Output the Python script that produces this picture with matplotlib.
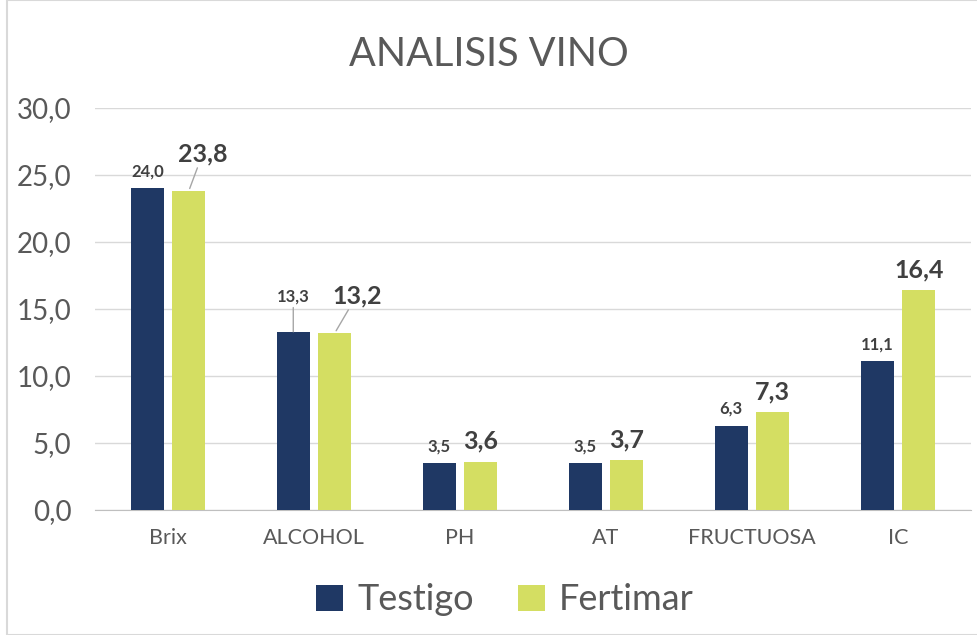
import numpy as np
import matplotlib
matplotlib.use('Agg')
import matplotlib.pyplot as plt
from matplotlib.patches import Rectangle

categories = ["Brix", "ALCOHOL", "PH", "AT", "FRUCTUOSA", "IC"]
testigo = [24.0, 13.3, 3.5, 3.5, 6.3, 11.1]
fertimar = [23.8, 13.2, 3.6, 3.7, 7.3, 16.4]
yticks = [0, 5, 10, 15, 20, 25, 30]

navy = "#1F3864"
green = "#D4DE62"
grey_txt = "#595959"
lbl_txt = "#404040"

plt.rcParams['font.family'] = ['Lato', 'DejaVu Sans']

fig = plt.figure(figsize=(9.77, 6.35), dpi=100)
ax = fig.add_axes([95 / 977, 1 - 510 / 635, 876 / 977, 402 / 635])

x = np.arange(len(categories))
w = 0.226
off = 0.142
b1 = ax.bar(x - off, testigo, w, color=navy, label="Testigo", zorder=3)
b2 = ax.bar(x + off, fertimar, w, color=green, label="Fertimar", zorder=3)

ax.set_xlim(-0.5, len(categories) - 0.5)
ax.set_ylim(0, 30)
ax.set_yticks(yticks)
ax.set_yticklabels([f"{v:.1f}".replace(".", ",") for v in yticks], fontsize=20, color=grey_txt)
ax.set_xticks(x)
ax.set_xticklabels(categories, fontsize=15.5, color=grey_txt)
ax.tick_params(axis='y', length=0, pad=17)
ax.tick_params(axis='x', length=0, pad=13)
ax.grid(axis='y', color="#D9D9D9", linewidth=1, zorder=0)
for s in ["top", "right", "left"]:
    ax.spines[s].set_visible(False)
ax.spines["bottom"].set_color("#BFBFBF")

# data labels; the two crowded ones get leader lines like in Excel
lead_t = {1: (0, 27)}
lead_f = {0: (14, 26), 1: (22, 26)}
for i, (xi, v) in enumerate(zip(x - off, testigo)):
    txt = f"{v:.1f}".replace(".", ",")
    if i in lead_t:
        dx, dy = lead_t[i]
        ax.annotate(txt, (xi, v), xytext=(dx, dy), textcoords='offset pixels',
                    ha='center', va='bottom', fontsize=12, fontweight='bold', color=lbl_txt,
                    arrowprops=dict(arrowstyle='-', color="#A6A6A6", lw=1, shrinkA=0, shrinkB=0))
    else:
        ax.annotate(txt, (xi, v), xytext=(0, 9), textcoords='offset pixels',
                    ha='center', va='bottom', fontsize=12, fontweight='bold', color=lbl_txt)
for i, (xi, v) in enumerate(zip(x + off, fertimar)):
    txt = f"{v:.1f}".replace(".", ",")
    if i in lead_f:
        dx, dy = lead_f[i]
        ax.annotate(txt, (xi, v), xytext=(dx, dy), textcoords='offset pixels',
                    ha='center', va='bottom', fontsize=18, fontweight='bold', color=lbl_txt,
                    arrowprops=dict(arrowstyle='-', color="#A6A6A6", lw=1, shrinkA=0, shrinkB=2))
    else:
        ax.annotate(txt, (xi, v), xytext=(0, 9), textcoords='offset pixels',
                    ha='center', va='bottom', fontsize=18, fontweight='bold', color=lbl_txt)

fig.text(0.5, 1 - 55 / 635, "ANALISIS VINO", ha='center', va='center', fontsize=28.5, color=grey_txt)

fig.legend(handles=[b1, b2], loc='center', bbox_to_anchor=(0.517, 1 - 600 / 635), ncol=2,
           frameon=False, fontsize=26, labelcolor=grey_txt, handlelength=0.75, handleheight=0.75,
           handletextpad=0.4, columnspacing=1.2)

fig.patches.append(Rectangle((7 / 977, 0), 1, 1, transform=fig.transFigure, fill=False,
                             edgecolor="#D9D9D9", linewidth=1.5))

fig.savefig("out.png", dpi=100)
